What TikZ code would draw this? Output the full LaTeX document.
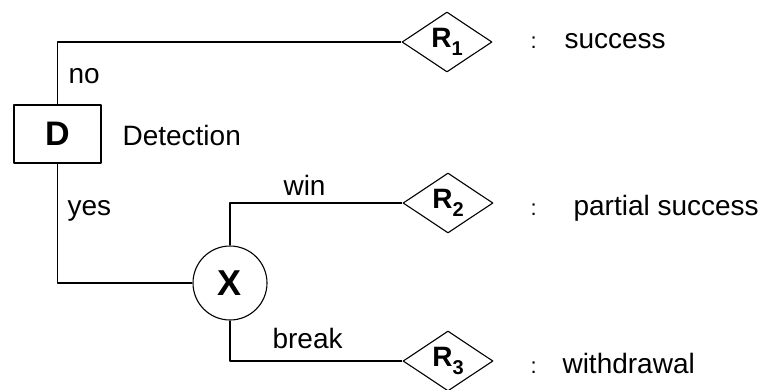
\documentclass[tikz,border=0pt]{standalone}
\usepackage{fontspec}
\setmainfont{Liberation Sans}
\usetikzlibrary{shapes.geometric}
\begin{document}
\begin{tikzpicture}[x=1pt, y=-1pt, line width=1.1pt, line join=round, font=\fontsize{28}{30}\selectfont,
  result/.style={diamond, draw, inner sep=0pt, minimum width=90pt, minimum height=60pt, font=\fontsize{28}{30}\selectfont\bfseries},
  lbl/.style={anchor=base west, inner sep=0pt}]
  \useasboundingbox (0,0) rectangle (767,389);
  \node[draw, minimum width=87pt, minimum height=58pt, inner sep=0pt, font=\fontsize{34}{36}\selectfont\bfseries] (D) at (57.5,134) {D};
  \node[circle, draw, minimum size=74pt, inner sep=0pt, font=\fontsize{36}{38}\selectfont\bfseries] (X) at (230,283) {X};
  \node[result] (R1) at (447,42) {R\raisebox{-0.3em}{\fontsize{20}{20}\selectfont 1}};
  \node[result] (R2) at (448,203) {R\raisebox{-0.3em}{\fontsize{20}{20}\selectfont 2}};
  \node[result] (R3) at (448,361) {R\raisebox{-0.3em}{\fontsize{20}{20}\selectfont 3}};
  \draw (D.north) |- (R1.west);
  \draw (D.south) |- (X.west);
  \draw (X.north) |- (R2.west);
  \draw (X.south) |- (R3.west);
  \node[lbl] (no) at (68,83) {no};
  \node[lbl] (yes) at (67,215) {yes};
  \node[lbl] (win) at (283,195) {win};
  \node[lbl] (break) at (272,348) {break};
  \node[lbl] (detect) at (122,145) {Detection};
  \node[lbl, font=\fontsize{22}{22}\selectfont] (c1) at (530,48) {:};
  \node[lbl, font=\fontsize{22}{22}\selectfont] (c2) at (530,215) {:};
  \node[lbl, font=\fontsize{22}{22}\selectfont] (c3) at (530,373) {:};
  \node[lbl] (success) at (564,48) {success};
  \node[lbl] (partial) at (573,215) {partial success};
  \node[lbl] (withdraw) at (562,373) {withdrawal};
\end{tikzpicture}
\end{document}
